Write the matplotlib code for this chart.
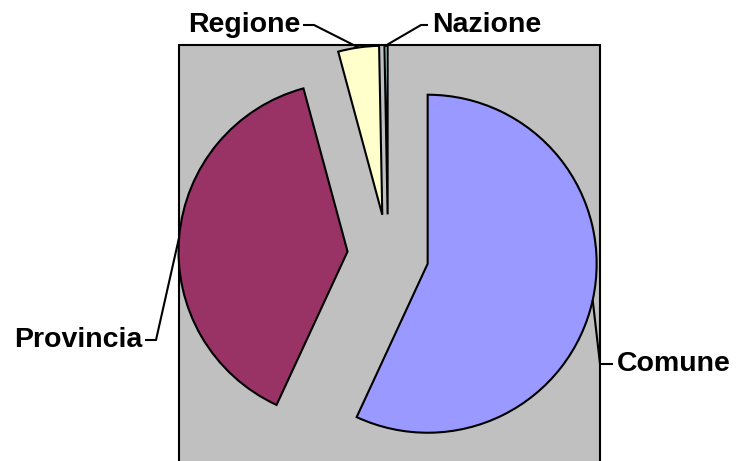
import numpy as np
import matplotlib
matplotlib.use("Agg")
import matplotlib.pyplot as plt
from matplotlib.patches import Rectangle

# quote per livello amministrativo (%)
categories = ["Comune", "Provincia", "Regione", "Nazione"]
values = [56.9, 38.9, 3.9, 0.3]
colors = ["#9999FF", "#993366", "#FFFFCC", "#CCFFFF"]

W, H = 736, 461
fig = plt.figure(figsize=(W / 100, H / 100), dpi=100)
ax = fig.add_axes([0, 0, 1, 1])

# area del grafico (sfondo grigio stile Excel)
ax.add_patch(Rectangle((179, -20), 421, 436, facecolor="#C0C0C0",
                       edgecolor="black", linewidth=1.5, zorder=0))

wedges, _ = ax.pie(values, colors=colors, startangle=90, counterclock=False,
                   radius=169, center=(388, 206), explode=[40.6] * len(values),
                   wedgeprops=dict(edgecolor="black", linewidth=1.5))
for w in wedges:
    w.set_zorder(2)

ax.set_xlim(0, W)
ax.set_ylim(0, H)
ax.set_aspect("auto")
ax.axis("off")

# etichette con linee guida: (testo x, testo y, allineamento, gomito x)
label_pos = {
    "Comune": (617, 97, "left", 600),
    "Provincia": (142, 121, "right", 156),
    "Regione": (300, 436, "right", 314),
    "Nazione": (432, 436, "left", 421),
}

for w, name in zip(wedges, categories):
    tx, ty, ha, ex = label_pos[name]
    tm = np.deg2rad((w.theta1 + w.theta2) / 2)
    cx, cy = w.center
    px = cx + w.r * np.cos(tm)
    py = cy + w.r * np.sin(tm)
    sx = tx + (3 if ha == "right" else -4)
    ax.plot([sx, ex, px], [ty, ty, py], color="black", lw=1.5, zorder=3,
            solid_capstyle="butt")
    ax.text(tx, ty, name, ha=ha, va="center", fontsize=20.5,
            fontweight="bold", family=["Liberation Sans", "DejaVu Sans"])

fig.savefig("out.png", dpi=100)
